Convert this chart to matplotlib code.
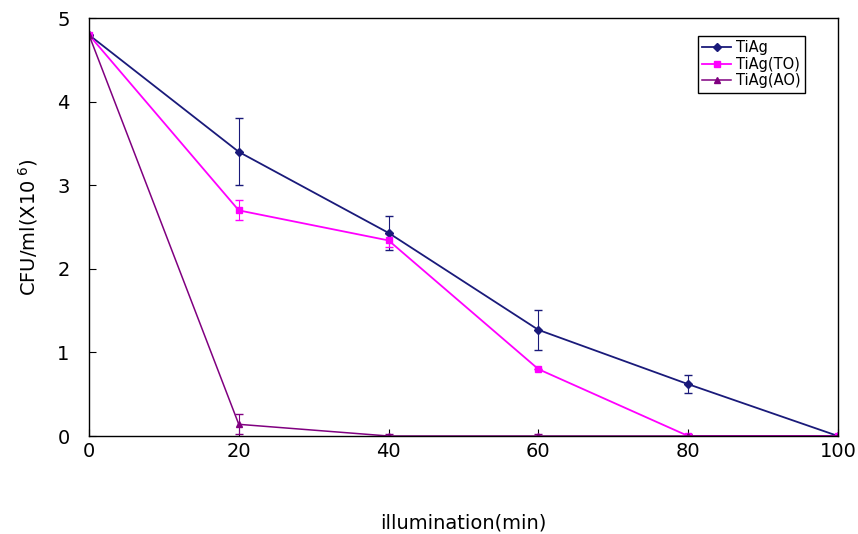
import matplotlib
matplotlib.use('Agg')
import matplotlib.pyplot as plt
from matplotlib.lines import Line2D

x = [0, 20, 40, 60, 80, 100]

tiag = [4.8, 3.40, 2.43, 1.27, 0.62, 0.0]
tiag_err = [0, 0.40, 0.20, 0.24, 0.11, 0]

tiag_to = [4.8, 2.70, 2.34, 0.80, 0.0, 0.0]
tiag_to_err = [0, 0.12, 0.08, 0, 0.02, 0]

tiag_ao = [4.8, 0.14, 0.0, 0.0, 0.0, 0.0]
tiag_ao_err = [0, 0.12, 0.03, 0.03, 0.02, 0]

plt.rcParams['font.family'] = ['DejaVu Sans']

fig = plt.figure(figsize=(8.58, 5.34), dpi=100)
ax = fig.add_axes([0.1037, 0.1835, 0.873, 0.7825])

styles = [
    ('TiAg', tiag, tiag_err, '#1a1a7a', 'D', 4, 1.3),
    ('TiAg(TO)', tiag_to, tiag_to_err, '#ff00ff', 's', 5, 1.3),
    ('TiAg(AO)', tiag_ao, tiag_ao_err, '#800080', '^', 5, 1.1),
]
handles = []
for name, y, err, c, m, ms, lw in styles:
    ax.errorbar(x, y, yerr=err, color=c, marker=m, markersize=ms,
                linewidth=lw, elinewidth=0.8, capsize=3)
    handles.append(Line2D([], [], color=c, marker=m, markersize=ms,
                          linewidth=lw, label=name))

ax.set_xlim(0, 100)
ax.set_ylim(0, 5)
ax.set_xticks([0, 20, 40, 60, 80, 100])
ax.set_yticks([0, 1, 2, 3, 4, 5])
ax.tick_params(direction='in', labelsize=14, length=5)
ax.tick_params(axis='x', pad=4)
ax.tick_params(axis='y', pad=14)

ax.set_xlabel('illumination(min)', fontsize=14, labelpad=38)
ax.set_ylabel(r'CFU/ml(X10$^{\ 6}$)', fontsize=14, labelpad=12)

for s in ax.spines.values():
    s.set_linewidth(1.0)

leg = ax.legend(handles=handles, loc='upper right', bbox_to_anchor=(0.965, 0.975),
                fontsize=10.5, fancybox=False, edgecolor='black', framealpha=1,
                handlelength=2.0, borderpad=0.3, labelspacing=0.1,
                handletextpad=0.3)
leg.get_frame().set_linewidth(1.0)

fig.savefig('out.png', dpi=100)
